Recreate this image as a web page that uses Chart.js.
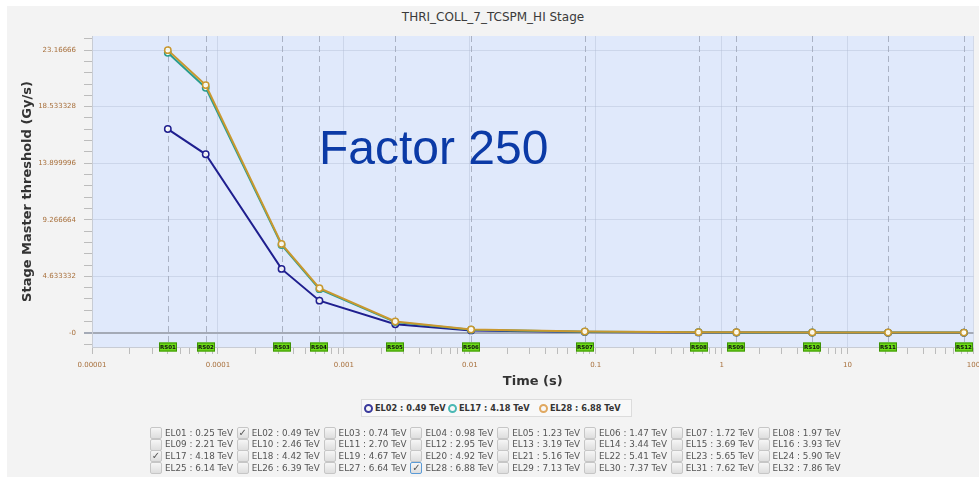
<!DOCTYPE html>
<html>
<head>
<meta charset="utf-8">
<script src="https://cdn.jsdelivr.net/npm/chart.js@4/dist/chart.umd.min.js"></script>
<style>
  body { margin: 0; background: #ffffff; width: 979px; height: 477px; overflow: hidden; position: relative; }
  #panel { position: absolute; left: 7px; top: 6px; width: 972px; height: 471px; background: #f3f3f3; }
  #title { position: absolute; left: 7px; top: 11px; width: 972px; text-align: center; font: 12px "DejaVu Sans"; line-height: 12px; color: #3a3a3a; }
  #chart { position: absolute; left: 0; top: 0; }
  #factor { position: absolute; left: 319px; top: 124px; font: 48px "Liberation Sans"; line-height: 48px; color: #0b3aa6; white-space: nowrap; }
  #legend { position: absolute; left: 361px; top: 399px; width: 269px; height: 16px; border: 1px solid #dcdcdc; background: #f8f8f8; }
  .lg-mark { position: absolute; top: 4px; width: 5px; height: 5px; border: 2px solid; border-radius: 50%; }
  .lg-text { position: absolute; top: 0; font: bold 8.2px "DejaVu Sans"; line-height: 16px; color: #333; white-space: nowrap; }
  .cb { position: absolute; width: 10px; height: 10px; border: 1px solid #c6c6c6; border-radius: 2px; background: linear-gradient(#f6f6f6, #dedede); font: 10px "DejaVu Sans"; line-height: 10px; text-align: center; color: #555; }
  .cb-text { position: absolute; font: 8.8px "DejaVu Sans"; line-height: 11px; color: #555; white-space: nowrap; }
</style>
</head>
<body>
<div id="panel"></div>
<div id="title">THRI_COLL_7_TCSPM_HI Stage</div>
<canvas id="chart" width="979" height="477"></canvas>
<div id="factor">Factor 250</div>
<div id="legend"></div>
<div id="grid"></div>
<script>
// running sums (s) and stage master thresholds (Gy/s)
const rsLabels = ['RS01', 'RS02', 'RS03', 'RS04', 'RS05', 'RS06', 'RS07', 'RS08', 'RS09', 'RS10', 'RS11', 'RS12'];
const rsTimes = [4e-5, 8e-5, 3.2e-4, 6.4e-4, 2.56e-3, 1.024e-2, 8.192e-2, 0.65536, 1.31072, 5.24288, 20.97152, 83.88608];

const el02Values = [16.70, 14.63, 5.24, 2.64, 0.71, 0.20, 0.08, 0.04, 0.03, 0.02, 0.01, 0.01];
const el17Values = [22.95, 20.08, 7.20, 3.58, 0.88, 0.25, 0.10, 0.05, 0.04, 0.03, 0.02, 0.02];
const el28Values = [23.16666, 20.30, 7.29, 3.66, 0.93, 0.27, 0.11, 0.06, 0.05, 0.04, 0.03, 0.02];

const seriesNames = ['EL02 : 0.49 TeV', 'EL17 : 4.18 TeV', 'EL28 : 6.88 TeV'];
const seriesColors = ['#1f1f8f', '#2a9d8f', '#c9982f'];
const legendColors = ['#3a3a9c', '#4ab8b4', '#e0a860'];

const xTickLabels = ['0.00001', '0.0001', '0.001', '0.01', '0.1', '1', '10', '100'];
const yTickValues = [0, 4.633332, 9.266664, 13.899996, 18.533328, 23.16666];
const yTickLabels = ['-0', '4.633332', '9.266664', '13.899996', '18.533328', '23.16666'];

// energy level check boxes
const elNames = ['EL01','EL02','EL03','EL04','EL05','EL06','EL07','EL08','EL09','EL10','EL11','EL12','EL13','EL14','EL15','EL16',
                 'EL17','EL18','EL19','EL20','EL21','EL22','EL23','EL24','EL25','EL26','EL27','EL28','EL29','EL30','EL31','EL32'];
const elEnergies = ['0.25','0.49','0.74','0.98','1.23','1.47','1.72','1.97','2.21','2.46','2.70','2.95','3.19','3.44','3.69','3.93',
                    '4.18','4.42','4.67','4.92','5.16','5.41','5.65','5.90','6.14','6.39','6.64','6.88','7.13','7.37','7.62','7.86'];
const elChecked = ['EL02', 'EL17', 'EL28'];

function toPoints(vals) {
    return vals.map((v, i) => ({ x: rsTimes[i], y: v }));
}

function isDecade(v) {
    const l = Math.log10(v);
    return Math.abs(l - Math.round(l)) < 1e-9;
}

const plotBg = {
    id: 'plotBg',
    beforeDraw(chart) {
        const { ctx, chartArea: a } = chart;
        ctx.save();
        ctx.fillStyle = '#e0e9fb';
        ctx.fillRect(a.left, a.top, a.right - a.left, a.bottom - a.top);
        ctx.restore();
    }
};

// dashed markers at each running sum
const rsLines = {
    id: 'rsLines',
    beforeDatasetsDraw(chart) {
        const { ctx, chartArea: a } = chart;
        const xs = chart.scales.x;
        ctx.save();
        ctx.strokeStyle = 'rgba(160,168,186,0.85)';
        ctx.lineWidth = 1;
        ctx.setLineDash([6, 4]);
        rsTimes.forEach(t => {
            const px = Math.round(xs.getPixelForValue(t)) + 0.5;
            ctx.beginPath();
            ctx.moveTo(px, a.top);
            ctx.lineTo(px, a.bottom);
            ctx.stroke();
        });
        ctx.restore();
    },
    afterDraw(chart) {
        const { ctx, chartArea: a } = chart;
        const xs = chart.scales.x;
        ctx.save();
        ctx.font = 'bold 5.5px "DejaVu Sans"';
        ctx.textAlign = 'center';
        ctx.textBaseline = 'middle';
        rsTimes.forEach((t, i) => {
            const px = Math.round(xs.getPixelForValue(t));
            ctx.fillStyle = '#6bdc16';
            ctx.strokeStyle = '#3d8f07';
            ctx.lineWidth = 1;
            ctx.fillRect(px - 9, a.bottom - 4.5, 18, 9);
            ctx.strokeRect(px - 9 + 0.5, a.bottom - 4.5 + 0.5, 17, 8);
            ctx.fillStyle = '#111';
            ctx.fillText(rsLabels[i], px, a.bottom + 0.5);
        });
        ctx.restore();
    }
};

const ctx = document.getElementById('chart').getContext('2d');
const stageChart = new Chart(ctx, {
    type: 'line',
    data: {
        datasets: [
            { label: seriesNames[0], data: toPoints(el02Values), order: 2 },
            { label: seriesNames[1], data: toPoints(el17Values), order: 1 },
            { label: seriesNames[2], data: toPoints(el28Values), order: 0 }
        ].map((d, i) => Object.assign(d, {
            borderColor: seriesColors[i],
            backgroundColor: seriesColors[i],
            borderWidth: 2,
            tension: 0,
            pointRadius: 3.2,
            pointBorderWidth: 1.5,
            pointBorderColor: seriesColors[i],
            pointBackgroundColor: 'rgba(255,255,250,0.9)'
        }))
    },
    options: {
        responsive: false,
        animation: false,
        layout: { padding: { left: 0, right: 4, top: 36, bottom: 85 } },
        plugins: {
            legend: { display: false },
            title: { display: false },
            tooltip: { enabled: false }
        },
        scales: {
            x: {
                type: 'logarithmic',
                min: 1e-5,
                max: 100,
                afterBuildTicks: s => {
                    const t = [];
                    for (let e = -5; e <= 2; e++) {
                        for (let m = 1; m <= 9; m++) {
                            const v = m * Math.pow(10, e);
                            if (v <= 100 + 1e-9) t.push({ value: v });
                        }
                    }
                    s.ticks = t;
                },
                afterFit: s => { s.height = 45; s.paddingLeft = 0; s.paddingRight = 0; },
                ticks: {
                    autoSkip: false,
                    maxRotation: 0,
                    padding: 7,
                    color: '#a8703c',
                    font: { family: 'DejaVu Sans', size: 7 },
                    callback: v => isDecade(v) ? xTickLabels[Math.round(Math.log10(v)) + 5] : ''
                },
                grid: {
                    drawTicks: true,
                    tickLength: 7,
                    color: c => (c.tick && isDecade(c.tick.value)) ? 'rgba(175,185,210,0.4)' : 'rgba(0,0,0,0)',
                    tickColor: '#bcbcbc'
                },
                border: { display: true, color: '#c8ccd4' },
                title: {
                    display: true,
                    text: 'Time (s)',
                    color: '#333',
                    font: { family: 'DejaVu Sans', size: 13, weight: 'bold' },
                    padding: { top: 0, bottom: 3 }
                }
            },
            y: {
                type: 'linear',
                min: -1.158333,
                max: 24.325,
                afterBuildTicks: s => {
                    const step = yTickValues[1] / 5;
                    const t = [];
                    for (let k = -1; k <= 26; k++) {
                        const v = k * step;
                        if (v < -1.158333 || v > 24.325) continue;
                        t.push({ value: v, txt: k % 5 === 0 ? yTickLabels[k / 5] : '' });
                    }
                    s.ticks = t;
                },
                afterFit: s => { s.width = 92; s.paddingTop = 0; s.paddingBottom = 0; },
                ticks: {
                    autoSkip: false,
                    padding: 8,
                    color: '#a8703c',
                    font: { family: 'DejaVu Sans', size: 7 },
                    callback: (v, i, ticks) => ticks[i].txt
                },
                grid: {
                    tickLength: 8,
                    color: c => {
                        if (!c.tick) return 'rgba(0,0,0,0)';
                        if (Math.abs(c.tick.value) < 1e-9) return '#a4aab6';
                        return c.tick.txt ? 'rgba(175,185,210,0.4)' : 'rgba(0,0,0,0)';
                    },
                    tickColor: c => (c.tick && Math.abs(c.tick.value) < 1e-9) ? '#a4aab6' : '#bcbcbc',
                    lineWidth: c => (c.tick && Math.abs(c.tick.value) < 1e-9) ? 2 : 1
                },
                border: { display: true, color: '#c8ccd4' },
                title: {
                    display: true,
                    text: 'Stage Master threshold (Gy/s)',
                    color: '#333',
                    font: { family: 'DejaVu Sans', size: 13, weight: 'bold' },
                    padding: { top: 20, bottom: 0 }
                }
            }
        }
    },
    plugins: [plotBg, rsLines]
});

// legend box
const legend = document.getElementById('legend');
const legendX = [2, 86, 177];
seriesNames.forEach((name, i) => {
    const m = document.createElement('div');
    m.className = 'lg-mark';
    m.style.left = legendX[i] + 'px';
    m.style.borderColor = legendColors[i];
    legend.appendChild(m);
    const t = document.createElement('div');
    t.className = 'lg-text';
    t.style.left = (legendX[i] + 11) + 'px';
    t.textContent = name;
    legend.appendChild(t);
});

// check box grid, 8 columns x 4 rows
const grid = document.getElementById('grid');
elNames.forEach((name, i) => {
    const col = i % 8, row = Math.floor(i / 8);
    const left = 150 + col * 86.8;
    const top = 427 + row * 11.7;
    const cb = document.createElement('div');
    cb.className = 'cb';
    cb.style.left = left + 'px';
    cb.style.top = top + 'px';
    if (elChecked.includes(name)) cb.textContent = '\u2713';
    if (name === 'EL28') cb.style.borderColor = '#5a9ad6';
    grid.appendChild(cb);
    const tx = document.createElement('div');
    tx.className = 'cb-text';
    tx.style.left = (left + 15) + 'px';
    tx.style.top = (top + 0.5) + 'px';
    tx.textContent = name + ' : ' + elEnergies[i] + ' TeV';
    grid.appendChild(tx);
});
</script>
</body>
</html>
